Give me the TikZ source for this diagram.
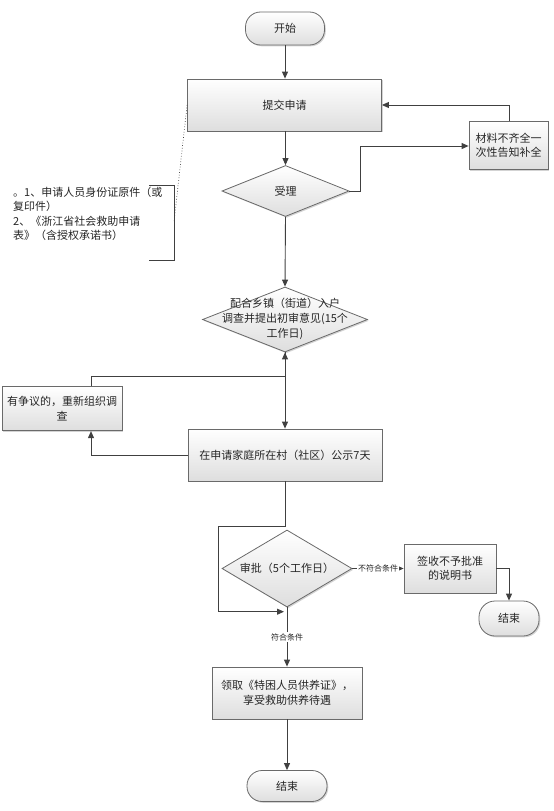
\documentclass[tikz,border=0pt]{standalone}
\usepackage{fontspec}
\setmainfont{Noto Sans CJK SC}
\usetikzlibrary{shapes.geometric,arrows.meta,shadows}
\definecolor{linec}{HTML}{404040}
\definecolor{edgec}{HTML}{6A6A6A}
\begin{document}
\begin{tikzpicture}[x=1pt,y=-1pt,
  every node/.style={font=\fontsize{11}{14.5}\selectfont, text=black!85, inner sep=0pt},
  boxbase/.style={draw=edgec, line width=0.8pt, top color=white, bottom color=black!13,
    drop shadow={shadow xshift=1.3pt, shadow yshift=-1.3pt, opacity=0.35}},
  procbox/.style={boxbase, rectangle, align=center},
  termbox/.style={boxbase, rectangle, rounded corners=15pt, align=center},
  decbox/.style={boxbase, diamond},
  conn/.style={draw=linec, line width=0.9pt, -{Triangle[length=7pt,width=6pt]}},
  plainline/.style={draw=linec, line width=0.9pt},
  edgelabel/.style={font=\fontsize{8}{9}\selectfont, fill=white, inner sep=1pt}
]
\useasboundingbox (0,0) rectangle (554,811);

% nodes
\node[termbox, minimum width=79pt, minimum height=33pt] (start) at (285,28.5) {开始};
\node[procbox, minimum width=194pt, minimum height=52pt] (submit) at (284.5,105) {提交申请};
\node[procbox, minimum width=79pt, minimum height=48pt] (mat) at (508.5,145.5) {材料不齐全一\\次性告知补全};
\node[decbox, minimum width=127pt, minimum height=51pt] (d1) at (285.5,191) {};
\node (d1t) at (d1.center) {受理};

\node[anchor=north west, align=left, font=\fontsize{11}{14.3}\selectfont] (note) at (13,187)
  {。1、申请人员身份证原件（或\\复印件）\\2、《浙江省社会救助申请\\表》（含授权承诺书）};
\coordinate (brtop) at (149,185);
\coordinate (brbot) at (149,260);

\node[decbox, minimum width=165pt, minimum height=65pt] (d2) at (285,319.5) {};
\node[align=center, font=\fontsize{11}{15}\selectfont] (d2t) at (285,318.5) {配合乡镇（街道）入户\\调查并提出初审意见(15个\\工作日)};

\node[procbox, minimum width=120pt, minimum height=44pt] (disp) at (62,408.7) {有争议的，重新组织调\\查};
\node[procbox, minimum width=194pt, minimum height=52pt] (pub) at (285,455) {在申请家庭所在村（社区）公示7天};

\node[decbox, minimum width=130pt, minimum height=77pt] (d3) at (287,568.5) {};
\node (d3t) at (d3.center) {审批（5个工作日）};

\node[procbox, minimum width=92pt, minimum height=49pt] (sign) at (450,568.5) {签收不予批准\\的说明书};
\node[termbox, minimum width=60pt, minimum height=35pt, rounded corners=16pt] (end2) at (509,618.5) {结束};

\node[procbox, minimum width=150pt, minimum height=52pt] (get) at (287,693) {领取《特困人员供养证》，\\享受救助供养待遇};
\node[termbox, minimum width=80pt, minimum height=31pt] (end) at (287,786) {结束};

% annotation bracket
\draw[plainline, line width=0.8pt] (brtop) -- (174,185) -- (174,260) -- (brbot);
\draw[linec, line width=0.7pt, dotted] ([yshift=0pt]submit.west) -- (174,222);

% connectors
\draw[conn] (start.south) -- (start.south |- submit.north);
\draw[conn] (submit.south -| d1.north) -- (d1.north);
\draw[conn] (d1.east) -- (360,191) -- (360,146) -- (mat.west |- 0,146);
\draw[conn] (mat.north -| 509,0) -- (509,105) -- (submit.east);
\draw[conn] (d1.south) -- (d2.north);
\draw[conn] (d2.south) -- (pub.north);
\draw[conn] ([xshift=29pt]disp.north) -- (91,376) -- (285,376) -- (d2.south);
\draw[conn] (pub.west) -- (91,455) -- ([xshift=29pt]disp.south);
\coordinate (d3in) at (284,611.7);
\draw[conn] (pub.south) -- (285,526.7) -- (218,526.7) -- (218,611.7) -- (d3in);
\draw[conn] (d3.east) -- node[edgelabel] (lno) {不符合条件} (sign.west);
\draw[conn] (sign.east) -- (509,568.5) -- (end2.north);
\draw[conn] (d3.south) -- node[edgelabel] (lyes) {符合条件} (get.north);
\draw[conn] (get.south) -- (end.north);
\end{tikzpicture}
\end{document}
